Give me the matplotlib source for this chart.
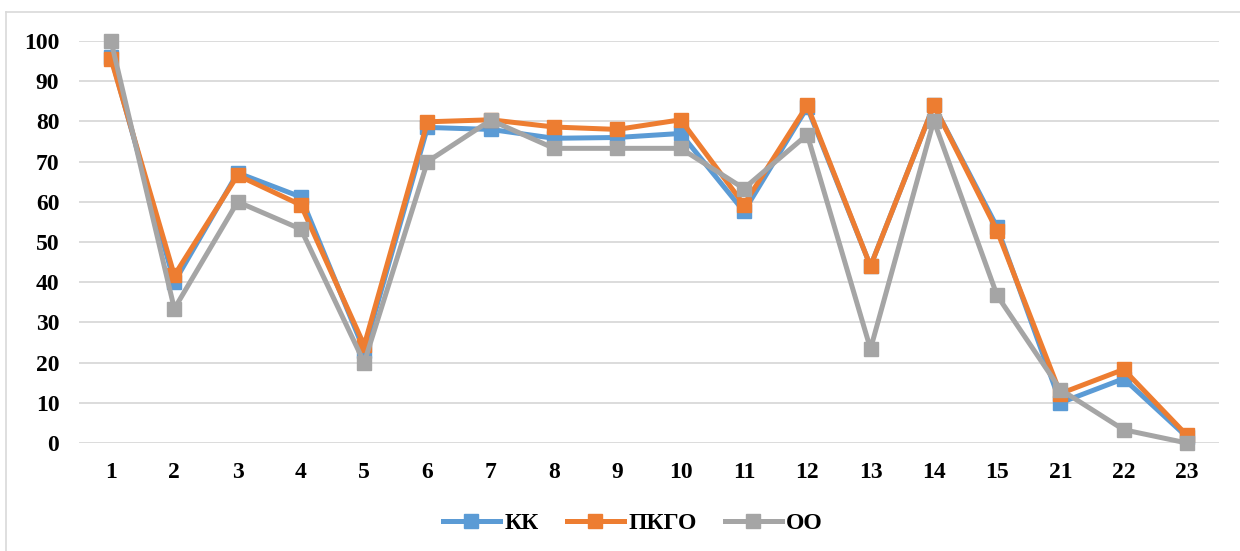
import matplotlib
matplotlib.use("Agg")
import matplotlib.pyplot as plt
from matplotlib.lines import Line2D

categories = ['1', '2', '3', '4', '5', '6', '7', '8', '9', '10', '11', '12', '13', '14', '15', '21', '22', '23']
kk   = [96.0, 40.0, 67.2, 61.2, 23.0, 78.5, 78.0, 75.8, 76.0, 77.0, 57.6, 83.5, 44.0, 84.0, 53.7, 10.0, 16.0, 1.5]
pkgo = [95.5, 41.7, 66.6, 59.2, 24.3, 79.9, 80.4, 78.6, 78.0, 80.4, 59.3, 84.0, 44.0, 84.0, 52.8, 12.3, 18.3, 1.9]
oo   = [100.0, 33.4, 60.0, 53.2, 20.0, 70.0, 80.3, 73.3, 73.3, 73.3, 63.3, 76.7, 23.4, 80.2, 36.7, 13.3, 3.3, 0.0]
series_names = ['КК', 'ПКГО', 'ОО']
yticks = [0, 10, 20, 30, 40, 50, 60, 70, 80, 90, 100]

colors = ['#5B9BD5', '#ED7D31', '#A5A5A5']

plt.rcParams['font.family'] = ['Liberation Serif', 'DejaVu Serif']
plt.rcParams['font.weight'] = 'bold'

fig = plt.figure(figsize=(12.4, 5.51), dpi=100)
W, H = 1240, 551
ax = fig.add_axes([79.4 / W, 1 - 443 / H, (1218.6 - 79.4) / W, (443 - 41) / H])

x = list(range(len(categories)))
for vals, c, name in zip([kk, pkgo, oo], colors, series_names):
    ax.plot(x, vals, color=c, lw=3.6, marker='s', markersize=10, label=name,
            clip_on=False, solid_joinstyle='round', zorder=3)

ax.set_xlim(-0.5, len(categories) - 0.5)
ax.set_ylim(0, 100)
ax.set_yticks(yticks)
ax.set_xticks(x)
ax.set_xticklabels(categories)
ax.tick_params(axis='both', length=0, labelsize=17)
ax.tick_params(axis='y', pad=14.5)
ax.tick_params(axis='x', pad=13.5)
for lbl in ax.get_xticklabels() + ax.get_yticklabels():
    lbl.set_fontweight('bold')
ax.grid(axis='y', color='#D9D9D9', lw=1.3, zorder=0)
ax.set_axisbelow(True)
for s in ax.spines.values():
    s.set_visible(False)

leg = fig.legend(loc='center', bbox_to_anchor=(633 / W, 1 - 523 / H), ncol=3, frameon=False,
                 prop={'family': 'Liberation Serif', 'weight': 'bold', 'size': 17},
                 handlelength=2.4, handletextpad=0.2, columnspacing=1.2)

# outer chart border (left and top visible)
fig.add_artist(Line2D([6 / W, 6 / W], [0, 1 - 12 / H], color='#D9D9D9', lw=1.2, transform=fig.transFigure))
fig.add_artist(Line2D([6 / W, 1], [1 - 12 / H, 1 - 12 / H], color='#D9D9D9', lw=1.2, transform=fig.transFigure))

fig.savefig('out.png', dpi=100)
